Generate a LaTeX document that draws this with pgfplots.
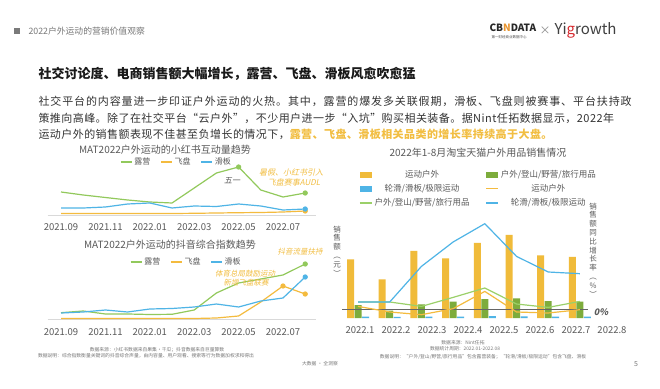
\documentclass[border=0pt]{standalone}
\usepackage{pgfplots}
\pgfplotsset{compat=1.18}
\usepackage{fontspec}
\setmainfont{Noto Sans CJK SC}
\newfontfamily\slantfont{Noto Sans CJK SC}[FakeSlant=0.2]
\newfontfamily\bodyfont{Noto Sans CJK SC}[LetterSpace=8]
\newfontfamily\bodyfontn{Noto Sans CJK SC}[LetterSpace=4]
\newcommand{\fs}[1]{\fontsize{#1}{#1}\selectfont}
\definecolor{cgreen}{RGB}{146,201,92}
\definecolor{corange}{RGB}{244,187,62}
\definecolor{cblue}{RGB}{79,180,230}
\definecolor{cbarY}{RGB}{240,187,58}
\definecolor{cbarG}{RGB}{125,172,60}
\definecolor{cgreenR}{RGB}{155,208,105}
\definecolor{ctgray}{RGB}{89,89,89}
\definecolor{clight}{RGB}{217,217,217}
\definecolor{cann}{RGB}{242,190,66}
\definecolor{cbody}{RGB}{51,51,51}
\definecolor{cfoot}{RGB}{120,120,120}
\definecolor{clogoO}{RGB}{232,150,50}
\definecolor{clogoR}{RGB}{214,40,45}
\begin{document}
\begin{tikzpicture}[x=1pt,y=1pt]
\path[use as bounding box, fill=white] (0,0) rectangle (660,388);
% header
\fill[ctgray!80] (14,354) rectangle (20,360);
\node[anchor=west, text=cfoot, font=\fs{8.8}] at (25,357) {2022户外运动的营销价值观察};
\node[anchor=west, font=\bfseries\fs{10}, text=black!85] at (486,360) {CB\textcolor{clogoO}{N}DATA};
\node[anchor=west, font=\fs{3.5}, text=black!70] at (488,351) {第一财经商业数据中心};
\node[text=black!45, font=\fs{11}] at (545,357) {×};
\node[anchor=west, font=\fs{15}, text=black!75] at (551,358) {Yi\textcolor{clogoR}{g}rowth};
% title
\node[anchor=west, font=\bfseries\fs{13}, text=black!90] at (35,314) {社交讨论度、电商销售额大幅增长，露营、飞盘、滑板风愈吹愈猛};
% paragraph
\node[anchor=west, font=\bodyfont\fs{11}, text=cbody] at (35,287) {社交平台的内容量进一步印证户外运动的火热。其中，露营的爆发多关联假期，滑板、飞盘则被赛事、平台扶持政};
\node[anchor=west, font=\bodyfontn\fs{11}, text=cbody] at (35,270) {策推向高峰。除了在社交平台“云户外”，不少用户进一步“入坑”购买相关装备。据Nint任拓数据显示，2022年};
\node[anchor=west, font=\bodyfontn\fs{11}, text=cbody] at (35,254) {运动户外的销售额表现不佳甚至负增长的情况下，\textcolor{cann}{\bfseries 露营、飞盘、滑板相关品类的增长率持续高于大盘。}};
% chart titles
\node[text=ctgray, font=\fs{10}] at (165,238) {MAT2022户外运动的小红书互动量趋势};
\node[text=ctgray, font=\fs{10}] at (170,143) {MAT2022户外运动的抖音综合指数趋势};
\node[text=ctgray, font=\fs{10}] at (478,235) {2022年1-8月淘宝天猫户外用品销售情况};

% ---------- chart 1 ----------
\begin{axis}[at={(47.7pt,173pt)}, anchor=south west, scale only axis, width=268.6pt, height=50pt,
 xmin=-0.6, xmax=11.5, ymin=0, ymax=50, clip=false,
 axis x line=bottom, axis y line=none, axis line style={draw=clight, -},
 xtick={0,2,4,6,8,10}, xticklabels={2021.09,2021.11,2022.01,2022.03,2022.05,2022.07},
 major tick length=0pt, xticklabel shift=5pt, xticklabel style={font=\fs{9.5}, text=ctgray},
 legend columns=3,
 legend style={draw=none, fill=none, font=\fs{8}, text=ctgray, at={(0.258,1.06)}, anchor=west,
   /tikz/every even column/.append style={column sep=8pt}},
 every axis plot/.append style={line width=1.2pt, mark size=2pt}]
\addplot[cgreen, mark=*, mark indices={9,12}, legend image code/.code={\draw[cgreen,line width=1.2pt] (0pt,0pt)--(11pt,0pt);}] coordinates {(0,23)(1,20)(2,17.5)(3,15)(4,13)(5,12)(6,27)(7,42)(8,48)(9,25)(10,18)(11,22)};
\addlegendentry{露营}
\addplot[corange, mark=*, mark indices={12}, legend image code/.code={\draw[corange,line width=1.2pt] (0pt,0pt)--(11pt,0pt);}] coordinates {(0,1.5)(1,1.5)(2,1.5)(3,1.5)(4,1.5)(5,1.5)(6,1.7)(7,2)(8,2.3)(9,2.5)(10,3)(11,4)};
\addlegendentry{飞盘}
\addplot[cblue, mark=*, mark indices={12}, legend image code/.code={\draw[cblue,line width=1.2pt] (0pt,0pt)--(11pt,0pt);}] coordinates {(0,7)(1,7)(2,8)(3,11)(4,12)(5,7)(6,9)(7,8.5)(8,11)(9,9)(10,5)(11,6)};
\addlegendentry{滑板}
\end{axis}
\node[text=ctgray, font=\slantfont\fs{8}] at (232,207) {五一};
\node[text=cann, font=\slantfont\fs{8}] at (291,216) {暑假、小红书引入};
\node[text=cann, font=\slantfont\fs{8}] at (294,206) {飞盘赛事AUDL};

% ---------- chart 2 ----------
\begin{axis}[at={(47.7pt,69pt)}, anchor=south west, scale only axis, width=268.6pt, height=60pt,
 xmin=-0.6, xmax=11.5, ymin=0, ymax=60, clip=false,
 axis x line=bottom, axis y line=none, axis line style={draw=clight, -},
 xtick={0,2,4,6,8,10}, xticklabels={2021.09,2021.11,2022.01,2022.03,2022.05,2022.07},
 major tick length=0pt, xticklabel shift=6pt, xticklabel style={font=\fs{9.5}, text=ctgray},
 legend columns=3,
 legend style={draw=none, fill=none, font=\fs{8}, text=ctgray, at={(0.295,0.95)}, anchor=west,
   /tikz/every even column/.append style={column sep=8pt}},
 every axis plot/.append style={line width=1.2pt, mark size=2pt}]
\addplot[cgreen, mark=*, mark indices={12}, legend image code/.code={\draw[cgreen,line width=1.2pt] (0pt,0pt)--(11pt,0pt);}] coordinates {(0,6.3)(1,8)(2,5)(3,5)(4,4.5)(5,4.7)(6,9)(7,26)(8,36)(9,40)(10,44)(11,55)};
\addlegendentry{露营}
\addplot[corange, mark=*, mark indices={11,12}, legend image code/.code={\draw[corange,line width=1.2pt] (0pt,0pt)--(11pt,0pt);}] coordinates {(0,0.5)(1,0.5)(2,0.5)(3,0.5)(4,0.5)(5,0.5)(6,0.5)(7,1)(8,3)(9,17)(10,33)(11,25)};
\addlegendentry{飞盘}
\addplot[cblue, mark=*, mark indices={12}, legend image code/.code={\draw[cblue,line width=1.2pt] (0pt,0pt)--(11pt,0pt);}] coordinates {(0,6)(1,7)(2,9)(3,7)(4,10)(5,10.5)(6,12)(7,15)(8,12)(9,18)(10,21)(11,42)};
\addlegendentry{滑板}
\end{axis}
\node[text=cann, font=\slantfont\fs{7.5}] at (300,136) {抖音流量扶持};
\node[text=cann, font=\slantfont\fs{7.5}] at (245,114) {体育总局鼓励运动};
\node[text=cann, font=\slantfont\fs{7.5}] at (246,105) {新增飞盘联赛};

% ---------- right chart: bars ----------
\begin{axis}[at={(342.15pt,70pt)}, anchor=south west, scale only axis, width=245.7pt, height=100pt,
 xmin=-0.5, xmax=7.25, ymin=0, ymax=100, clip=false, axis lines=none,
 ybar, bar width=7pt,
 legend columns=2,
 legend style={draw=none, fill=none, font=\fs{8.5}, text=ctgray, at={(0.057,1.52)}, anchor=north west,
   /tikz/every even column/.append style={column sep=14pt}, row sep=1.5pt}]
\addplot[fill=cbarY, draw=none, bar shift=-7.5pt, legend image code/.code={\fill[cbarY] (0pt,-3pt) rectangle (12pt,3pt);}] coordinates {(0,58.7)(1,38.7)(2,67)(3,59.7)(4,75)(5,83)(6,62.7)(7,61)};
\addlegendentry{运动户外}
\addplot[fill=cbarG, draw=none, bar shift=0pt, legend image code/.code={\fill[cbarG] (0pt,-3pt) rectangle (12pt,3pt);}] coordinates {(0,13)(1,7.3)(2,13.7)(3,16.3)(4,19)(5,19.7)(6,17)(7,16.3)};
\addlegendentry{户外/登山/野营/旅行用品}
\addplot[fill=cblue, draw=none, bar shift=7.5pt, legend image code/.code={\fill[cblue] (0pt,-3pt) rectangle (12pt,3pt);}] coordinates {(0,1.5)(1,1.2)(2,1.3)(3,1.4)(4,1.8)(5,1.6)(6,1.3)(7,1.5)};
\addlegendentry{轮滑/滑板/极限运动}
\addlegendimage{legend image code/.code={\draw[corange,line width=1.2pt] (0pt,0pt)--(12pt,0pt);}}
\addlegendentry{运动户外}
\addlegendimage{legend image code/.code={\draw[cgreenR,line width=1.2pt] (0pt,0pt)--(12pt,0pt);}}
\addlegendentry{户外/登山/野营/旅行用品}
\addlegendimage{legend image code/.code={\draw[cblue,line width=1.2pt] (0pt,0pt)--(12pt,0pt);}}
\addlegendentry{轮滑/滑板/极限运动}
\end{axis}
% ---------- right chart: growth lines ----------
\begin{axis}[at={(342.15pt,70pt)}, anchor=south west, scale only axis, width=245.7pt, height=100pt,
 xmin=-0.5, xmax=7.25, ymin=-9, ymax=91, clip=false, axis lines=none,
 every axis plot/.append style={line width=1.2pt, mark=none}]
\addplot[black!60, line width=0.7pt] coordinates {(-0.5,0)(7.25,0)};
\addplot[corange] coordinates {(0,2.6)(1,-3)(2,-5.7)(3,0.3)(4,17.6)(5,-3)(6,-4)(7,-0.7)};
\addplot[cgreenR] coordinates {(0,7)(1,7)(2,2.6)(3,11.6)(4,21)(5,5)(6,1.6)(7,7.6)};
\addplot[cblue] coordinates {(0,7)(1,7)(2,42.6)(3,67)(4,85.3)(5,52.6)(6,37)(7,35.3)};
\end{axis}
% category labels of the right chart
\begin{axis}[at={(342pt,70pt)}, anchor=south west, scale only axis, width=288pt, height=100pt,
 xmin=-0.5, xmax=7.5, ymin=0, ymax=1,
 axis x line=bottom, axis y line=none, axis line style={draw=none},
 xtick={0,1,2,3,4,5,6,7}, xticklabels={2022.1,2022.2,2022.3,2022.4,2022.5,2022.6,2022.7,2022.8},
 major tick length=0pt, xticklabel shift=5.5pt, xticklabel style={font=\fs{9.5}, text=ctgray}]
\end{axis}
\node[text=ctgray, font=\bfseries\slantfont\fs{9}] at (601,76) {0\%};
\node[text=ctgray, align=center, inner sep=0pt, font=\fontsize{7.5}{8.8}\selectfont] at (337,137) {销\\售\\额\\︵\\元\\︶};
\node[text=ctgray, align=center, inner sep=0pt, font=\fontsize{7.5}{8.8}\selectfont] at (593,138) {销\\售\\额\\同\\比\\增\\长\\率\\︵\\\%\\︶};

% footnotes
\node[text=cfoot, font=\fs{4.8}] at (157,38) {数据来源：小红书数据来自果集·千瓜；抖音数据来自巨量算数};
\node[text=cfoot, font=\fs{4.8}] at (146,32) {数据说明：综合指数衡量关键词的抖音综合声量，由内容量、用户观看、搜索等行为数据加权求和得出};
\node[text=cfoot, font=\fs{4.8}] at (320,24) {大数据 · 全洞察};
\node[text=cfoot, font=\fs{4.8}] at (463,45) {数据来源：Nint任拓};
\node[text=cfoot, font=\fs{4.8}] at (465,39) {数据统计周期：2022.01-2022.08};
\node[text=cfoot, font=\fs{4.8}] at (483,31) {数据说明：“户外/登山/野营/旅行用品”包含露营装备；“轮滑/滑板/极限运动”包含飞盘、滑板};
\node[text=cfoot, font=\fs{7}] at (636,24) {5};
\end{tikzpicture}
\end{document}
